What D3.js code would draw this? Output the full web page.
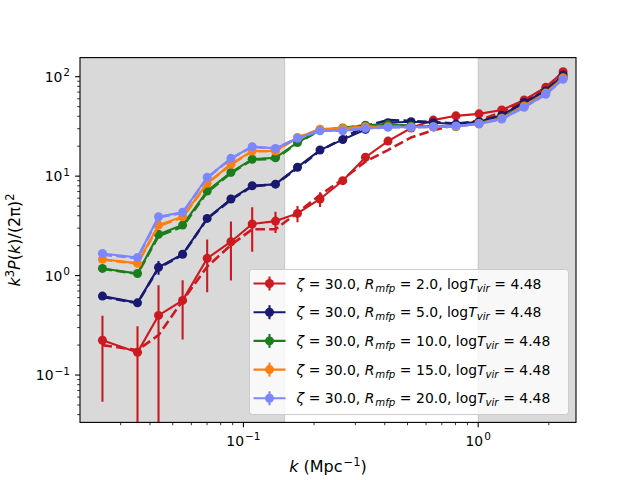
<!DOCTYPE html>
<html>
<head>
<meta charset="utf-8">
<script src="https://cdn.jsdelivr.net/npm/d3@7"></script>
<style>
  body { margin: 0; background: #fff; }
  text { font-family: "DejaVu Sans", sans-serif; }
</style>
</head>
<body>
<div id="chart"></div>
<script>
const svgWidth = 640;
const svgHeight = 480;

const margin = { top: 57.6, right: 64, bottom: 57.6, left: 80 };
const width = svgWidth - margin.left - margin.right;
const height = svgHeight - margin.top - margin.bottom;

// wavenumbers (Mpc^-1)
const kValues = [0.0251, 0.0354, 0.0435, 0.0551, 0.0701, 0.0885, 0.109, 0.137, 0.170, 0.212, 0.265,
  0.331, 0.413, 0.518, 0.644, 0.804, 1.008, 1.26, 1.57, 1.94, 2.30];

// R_mfp = 2.0
const red = [0.224, 0.169, 0.398, 0.563, 1.49, 2.19, 3.30, 3.53, 4.22, 5.89, 9.0,
  15.5, 22.5, 30.5, 36.6, 40.4, 42.3, 46.2, 58.3, 78.2, 112];
const redErr = [0.17, 0.141, 0.40, 0.335, 0.81, 1.30, 1.56, 0.85, 0.78, 1.0, 0.6,
  1.0, 1.2, 1.2, 1.2, 1.3, 1.5, 1.5, 2.0, 2.5, 3.0];
const redDash = [0.20, 0.178, 0.252, 0.56, 1.23, 2.03, 2.92, 2.92, 4.3, 6.45, 9.3,
  14.0, 18.3, 24.5, 29.0, 32.7, 36.5, 44.0, 57.5, 77.5, 111];

// R_mfp = 5.0
const navy = [0.622, 0.532, 1.21, 1.64, 3.76, 5.89, 8.0, 8.3, 12.3, 18.3, 23.3,
  29.5, 34.4, 35.2, 34.4, 33.4, 35.2, 41.0, 55.0, 72.0, 104];
const navyErr = [0.03, 0.03, 0.19, 0.12, 0.2, 0.3, 0.3, 0.3, 0.4, 0.5, 0.6,
  0.7, 0.8, 0.8, 0.8, 0.8, 0.9, 1.0, 1.2, 1.5, 2.0];
const navyDash = [0.61, 0.53, 1.19, 1.62, 3.72, 5.8, 7.9, 8.3, 12.0, 18.0, 23.8,
  32.0, 36.6, 35.9, 35.0, 33.8, 35.2, 41.0, 55.0, 72.0, 104];

// R_mfp = 10.0
const green = [1.18, 1.05, 2.60, 3.22, 7.08, 10.9, 14.8, 15.3, 21.8, 29.1, 30.5,
  32.5, 33.0, 32.0, 31.5, 31.6, 34.0, 38.5, 51.0, 69.0, 98];
const greenErr = [0.03, 0.03, 0.06, 0.08, 0.15, 0.2, 0.3, 0.3, 0.4, 0.5, 0.6,
  0.6, 0.6, 0.6, 0.6, 0.6, 0.7, 0.8, 1.0, 1.3, 1.8];
const greenDash = [1.17, 1.04, 2.50, 3.10, 6.9, 10.7, 14.6, 15.0, 21.5, 29.0, 30.5,
  32.5, 33.0, 32.0, 31.5, 31.6, 34.0, 38.5, 51.0, 69.0, 98];

// R_mfp = 15.0
const orange = [1.46, 1.33, 3.22, 3.91, 8.47, 13.2, 17.9, 17.9, 24.5, 29.6, 30.2,
  31.4, 31.4, 31.2, 31.2, 31.6, 33.8, 38.0, 50.5, 68.0, 97];
const orangeErr = [0.03, 0.03, 0.07, 0.08, 0.2, 0.3, 0.3, 0.3, 0.4, 0.5, 0.6,
  0.6, 0.6, 0.6, 0.6, 0.6, 0.7, 0.8, 1.0, 1.3, 1.8];
const orangeDash = [1.45, 1.32, 3.15, 3.85, 8.4, 13.1, 17.8, 17.8, 24.4, 29.6, 30.2,
  31.4, 31.4, 31.2, 31.2, 31.6, 33.8, 38.0, 50.5, 68.0, 97];

// R_mfp = 20.0
const lilac = [1.67, 1.52, 3.91, 4.33, 9.72, 15.1, 19.8, 19.0, 24.0, 28.6, 28.6,
  30.2, 31.0, 31.0, 31.4, 31.9, 33.4, 37.5, 49.2, 66.5, 94.2];
const lilacErr = [0.03, 0.03, 0.08, 0.09, 0.2, 0.3, 0.3, 0.3, 0.4, 0.5, 0.6,
  0.6, 0.6, 0.6, 0.6, 0.6, 0.7, 0.8, 1.0, 1.3, 1.8];
const lilacDash = [1.62, 1.50, 3.85, 4.28, 9.6, 15.0, 19.7, 19.0, 24.0, 28.6, 28.6,
  30.2, 31.0, 31.0, 31.4, 31.9, 33.4, 37.5, 49.2, 66.5, 94.2];

const rmfpLabels = ["2.0", "5.0", "10.0", "15.0", "20.0"];
const colors = ["#cc1a20", "#191970", "#1b7d1b", "#ff7f0e", "#7b86ff"];
const seriesValues = [red, navy, green, orange, lilac];
const seriesErrors = [redErr, navyErr, greenErr, orangeErr, lilacErr];
const seriesDashed = [redDash, navyDash, greenDash, orangeDash, lilacDash];

// shaded k ranges
const shadeRanges = [[0.01, 0.15], [1.0, 10]];

const xTicks = [0.1, 1];
const xTickExp = ["\u22121", "0"];
const yTicks = [0.1, 1, 10, 100];
const yTickExp = ["\u22121", "0", "1", "2"];

const series = seriesValues.map((vals, i) => ({
  label: rmfpLabels[i],
  color: colors[i],
  points: kValues.map((k, j) => ({ k: k, v: vals[j], e: seriesErrors[i][j], d: seriesDashed[i][j] }))
}));

const svg = d3.select("#chart")
  .append("svg")
  .attr("width", svgWidth)
  .attr("height", svgHeight);

const chartGroup = svg.append("g")
  .attr("transform", `translate(${margin.left}, ${margin.top})`);

const xScale = d3.scaleLog()
  .domain([0.02014, 2.61])
  .range([0, width]);

const yScale = d3.scaleLog()
  .domain([0.0334, 155.6])
  .range([height, 0]);

svg.append("defs").append("clipPath")
  .attr("id", "plotClip")
  .append("rect")
  .attr("width", width)
  .attr("height", height);

const plot = chartGroup.append("g").attr("clip-path", "url(#plotClip)");

// grey bands
plot.selectAll("rect.band")
  .data(shadeRanges)
  .enter()
  .append("rect")
  .attr("class", "band")
  .attr("x", d => xScale(d[0]))
  .attr("width", d => xScale(d[1]) - xScale(d[0]))
  .attr("y", 0)
  .attr("height", height)
  .attr("fill", "#808080")
  .attr("fill-opacity", 0.3)
  .attr("stroke", "#808080")
  .attr("stroke-opacity", 0.3)
  .attr("stroke-width", 1);

const solidLine = d3.line().x(d => xScale(d.k)).y(d => yScale(d.v));
const dashLine = d3.line().x(d => xScale(d.k)).y(d => yScale(d.d));
const yMin = yScale.domain()[0];

series.forEach(s => {
  const g = plot.append("g");

  g.selectAll("line.err")
    .data(s.points)
    .enter()
    .append("line")
    .attr("class", "err")
    .attr("x1", d => xScale(d.k))
    .attr("x2", d => xScale(d.k))
    .attr("y1", d => yScale(d.v + d.e))
    .attr("y2", d => yScale(Math.max(d.v - d.e, yMin * 0.5)))
    .attr("stroke", s.color)
    .attr("stroke-width", 2.1);

  g.append("path")
    .datum(s.points)
    .attr("d", solidLine)
    .attr("fill", "none")
    .attr("stroke", s.color)
    .attr("stroke-width", 2.1);

  g.selectAll("circle")
    .data(s.points)
    .enter()
    .append("circle")
    .attr("cx", d => xScale(d.k))
    .attr("cy", d => yScale(d.v))
    .attr("r", 4.5)
    .attr("fill", s.color);

  g.append("path")
    .datum(s.points)
    .attr("d", dashLine)
    .attr("fill", "none")
    .attr("stroke", s.color)
    .attr("stroke-width", 2.6)
    .attr("stroke-dasharray", "9.6,4.2");
});

// axes frame
chartGroup.append("rect")
  .attr("width", width)
  .attr("height", height)
  .attr("fill", "none")
  .attr("stroke", "#000")
  .attr("stroke-width", 1.1);

// minor ticks
function minorTicks(domain) {
  const out = [];
  for (let e = -3; e <= 3; e++) {
    for (let m = 2; m <= 9; m++) {
      const v = m * Math.pow(10, e);
      if (v >= domain[0] && v <= domain[1]) out.push(v);
    }
  }
  return out;
}

const axisX = chartGroup.append("g").attr("transform", `translate(0, ${height})`);
axisX.selectAll("line.minor")
  .data(minorTicks(xScale.domain()))
  .enter().append("line")
  .attr("x1", d => xScale(d)).attr("x2", d => xScale(d))
  .attr("y1", 0).attr("y2", 2.8)
  .attr("stroke", "#000").attr("stroke-width", 0.8);
axisX.selectAll("line.major")
  .data(xTicks)
  .enter().append("line")
  .attr("x1", d => xScale(d)).attr("x2", d => xScale(d))
  .attr("y1", 0).attr("y2", 4.9)
  .attr("stroke", "#000").attr("stroke-width", 1.1);
const xLab = axisX.selectAll("text.tick")
  .data(xTicks)
  .enter().append("text")
  .attr("x", d => xScale(d))
  .attr("y", 23.5)
  .attr("text-anchor", "middle")
  .attr("font-size", "13.9px");
xLab.append("tspan").text("10");
xLab.append("tspan").attr("dx", 1).attr("dy", -5.5).attr("font-size", "10.5px").text((d, i) => xTickExp[i]);

const axisY = chartGroup.append("g");
axisY.selectAll("line.minor")
  .data(minorTicks(yScale.domain()))
  .enter().append("line")
  .attr("y1", d => yScale(d)).attr("y2", d => yScale(d))
  .attr("x1", 0).attr("x2", -2.8)
  .attr("stroke", "#000").attr("stroke-width", 0.8);
axisY.selectAll("line.major")
  .data(yTicks)
  .enter().append("line")
  .attr("y1", d => yScale(d)).attr("y2", d => yScale(d))
  .attr("x1", 0).attr("x2", -4.9)
  .attr("stroke", "#000").attr("stroke-width", 1.1);
const yLab = axisY.selectAll("text.tick")
  .data(yTicks)
  .enter().append("text")
  .attr("x", -10)
  .attr("y", d => yScale(d) + 5)
  .attr("text-anchor", "end")
  .attr("font-size", "13.9px");
yLab.append("tspan").text("10");
yLab.append("tspan").attr("dx", 1).attr("dy", -5.5).attr("font-size", "10.5px").text((d, i) => yTickExp[i]);

// axis labels
const xTitle = svg.append("text")
  .attr("x", margin.left + width / 2)
  .attr("y", 472)
  .attr("text-anchor", "middle")
  .attr("font-size", "16px");
xTitle.append("tspan").attr("font-style", "italic").text("k");
xTitle.append("tspan").text(" (Mpc");
xTitle.append("tspan").attr("dx", 1).attr("dy", -6.5).attr("font-size", "11.5px").text("\u22121");
xTitle.append("tspan").attr("dy", 6.5).text(")");

const yTitle = svg.append("text")
  .attr("transform", `translate(20, ${margin.top + height / 2}) rotate(-90)`)
  .attr("text-anchor", "middle")
  .attr("font-size", "16px");
yTitle.append("tspan").attr("font-style", "italic").text("k");
yTitle.append("tspan").attr("dy", -6.5).attr("font-size", "11.5px").text("3");
yTitle.append("tspan").attr("dy", 6.5).attr("font-style", "italic").text("P");
yTitle.append("tspan").text("(");
yTitle.append("tspan").attr("font-style", "italic").text("k");
yTitle.append("tspan").text(")/(2\u03c0)");
yTitle.append("tspan").attr("dy", -6.5).attr("font-size", "11.5px").text("2");

// legend
const legend = svg.append("g").attr("transform", "translate(249.5, 269.5)");
legend.append("rect")
  .attr("width", 319)
  .attr("height", 145)
  .attr("rx", 3)
  .attr("fill", "#fff")
  .attr("fill-opacity", 0.8)
  .attr("stroke", "#cccccc")
  .attr("stroke-width", 1);

const rows = legend.selectAll("g.row")
  .data(series)
  .enter().append("g")
  .attr("class", "row")
  .attr("transform", (d, i) => `translate(0, ${14 + i * 28.7})`);

rows.append("line")
  .attr("x1", 4).attr("x2", 36).attr("y1", 0).attr("y2", 0)
  .attr("stroke", d => d.color).attr("stroke-width", 2.1);
rows.append("line")
  .attr("x1", 20).attr("x2", 20).attr("y1", -7).attr("y2", 7)
  .attr("stroke", d => d.color).attr("stroke-width", 2.1);
rows.append("circle")
  .attr("cx", 20).attr("cy", 0).attr("r", 4.5)
  .attr("fill", d => d.color);

const eq = "\u2004=\u2004";
const txt = rows.append("text")
  .attr("x", 47)
  .attr("y", 5)
  .attr("font-size", "13.9px");
txt.append("tspan").attr("font-style", "italic").text("\u03b6");
txt.append("tspan").text(`${eq}30.0, `);
txt.append("tspan").attr("font-style", "italic").text("R");
txt.append("tspan").attr("font-style", "italic").attr("font-size", "10.2px").attr("dx", 1).attr("dy", 3).text("mfp");
txt.append("tspan").attr("dy", -3).text(d => `${eq}${d.label}, log`);
txt.append("tspan").attr("font-style", "italic").text("T");
txt.append("tspan").attr("font-style", "italic").attr("font-size", "10.2px").attr("dy", 3).text("vir");
txt.append("tspan").attr("dy", -3).text(`${eq}4.48`);
</script>
</body>
</html>
